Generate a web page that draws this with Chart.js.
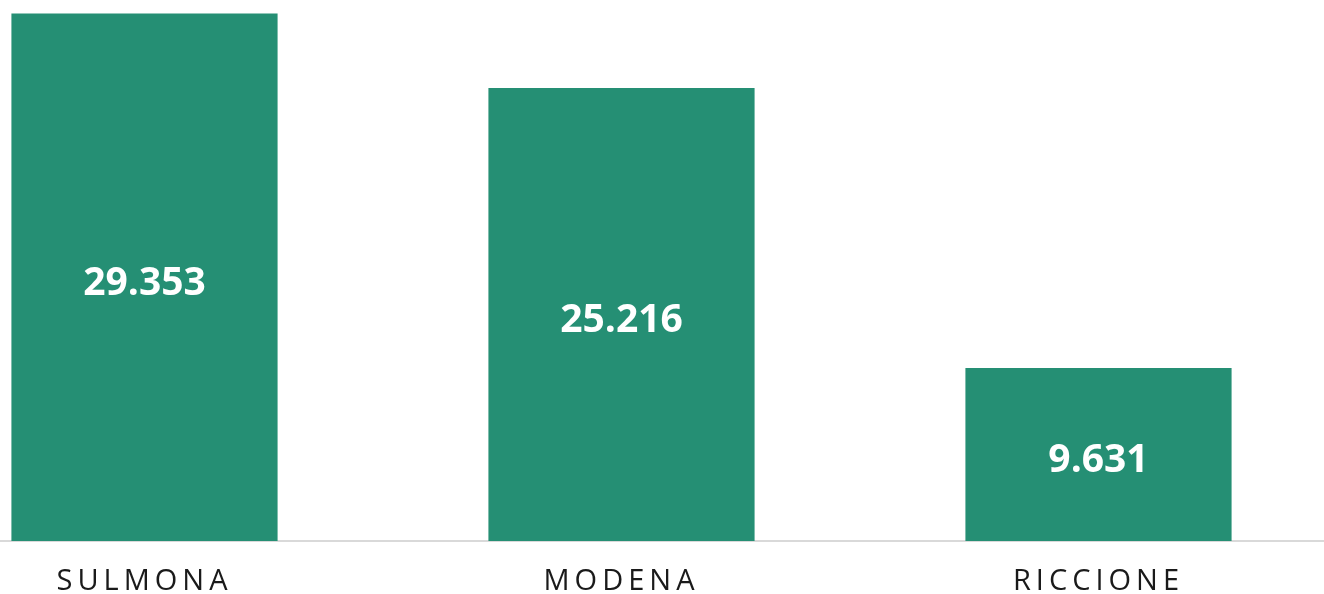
<!DOCTYPE html>
<html>
<head>
<meta charset="utf-8">
<script src="https://cdn.jsdelivr.net/npm/chart.js@4.4.1/dist/chart.umd.min.js"></script>
<style>
  html, body { margin: 0; padding: 0; background: #fff; overflow: hidden; }
  #wrap { position: absolute; left: -94.5px; top: 0; width: 1431px; height: 622px; }
</style>
</head>
<body>
<div id="wrap"><canvas id="barChart"></canvas></div>
<script>
const cities = ['SULMONA', 'MODENA', 'RICCIONE']
const visitors = [29353, 25216, 9631]
const yMax = 30000

const barColor = '#258f74'

// 29353 -> "29.353"
function fmt(v) {
    return String(v).replace(/\B(?=(\d{3})+(?!\d))/g, '.')
}

// spaced-out tick labels, then normal spacing for the values
const spacing = {
    id: 'spacing',
    beforeDraw(chart) { chart.ctx.letterSpacing = '5px' },
    beforeDatasetsDraw(chart) { chart.ctx.letterSpacing = '0px' }
}

const valueLabels = {
    id: 'valueLabels',
    afterDatasetsDraw(chart) {
        const ctx = chart.ctx
        const meta = chart.getDatasetMeta(0)
        ctx.save()
        ctx.letterSpacing = '0px'
        ctx.fillStyle = '#ffffff'
        ctx.font = '700 39px "Open Sans"'
        ctx.textAlign = 'center'
        ctx.textBaseline = 'alphabetic'
        meta.data.forEach((bar, i) => {
            const mid = (bar.y + bar.base) / 2
            ctx.fillText(fmt(visitors[i]), bar.x, mid + 18)
        })
        ctx.restore()
    }
}

let MyChart = document.getElementById('barChart').getContext('2d')

let cityChart = new Chart(MyChart, {
    type: 'bar',
    data: {
        labels: cities,
        datasets: [{
            data: visitors,
            backgroundColor: barColor,
            borderWidth: 0,
            categoryPercentage: 1,
            barPercentage: 0.558
        }]
    },
    options: {
        responsive: true,
        maintainAspectRatio: false,
        animation: false,
        layout: { padding: { top: 2, bottom: 0, left: 0, right: 0 } },
        plugins: {
            legend: { display: false },
            tooltip: { enabled: false }
        },
        scales: {
            x: {
                grid: { display: false, drawTicks: false },
                border: { display: true, color: '#d9d9d9', width: 2 },
                ticks: {
                    color: '#1a1a1a',
                    padding: 26,
                    font: { family: '"Open Sans"', size: 29, weight: 400, lineHeight: 1 }
                }
            },
            y: {
                display: false,
                min: 0,
                max: yMax
            }
        }
    },
    plugins: [spacing, valueLabels]
})
</script>
</body>
</html>
